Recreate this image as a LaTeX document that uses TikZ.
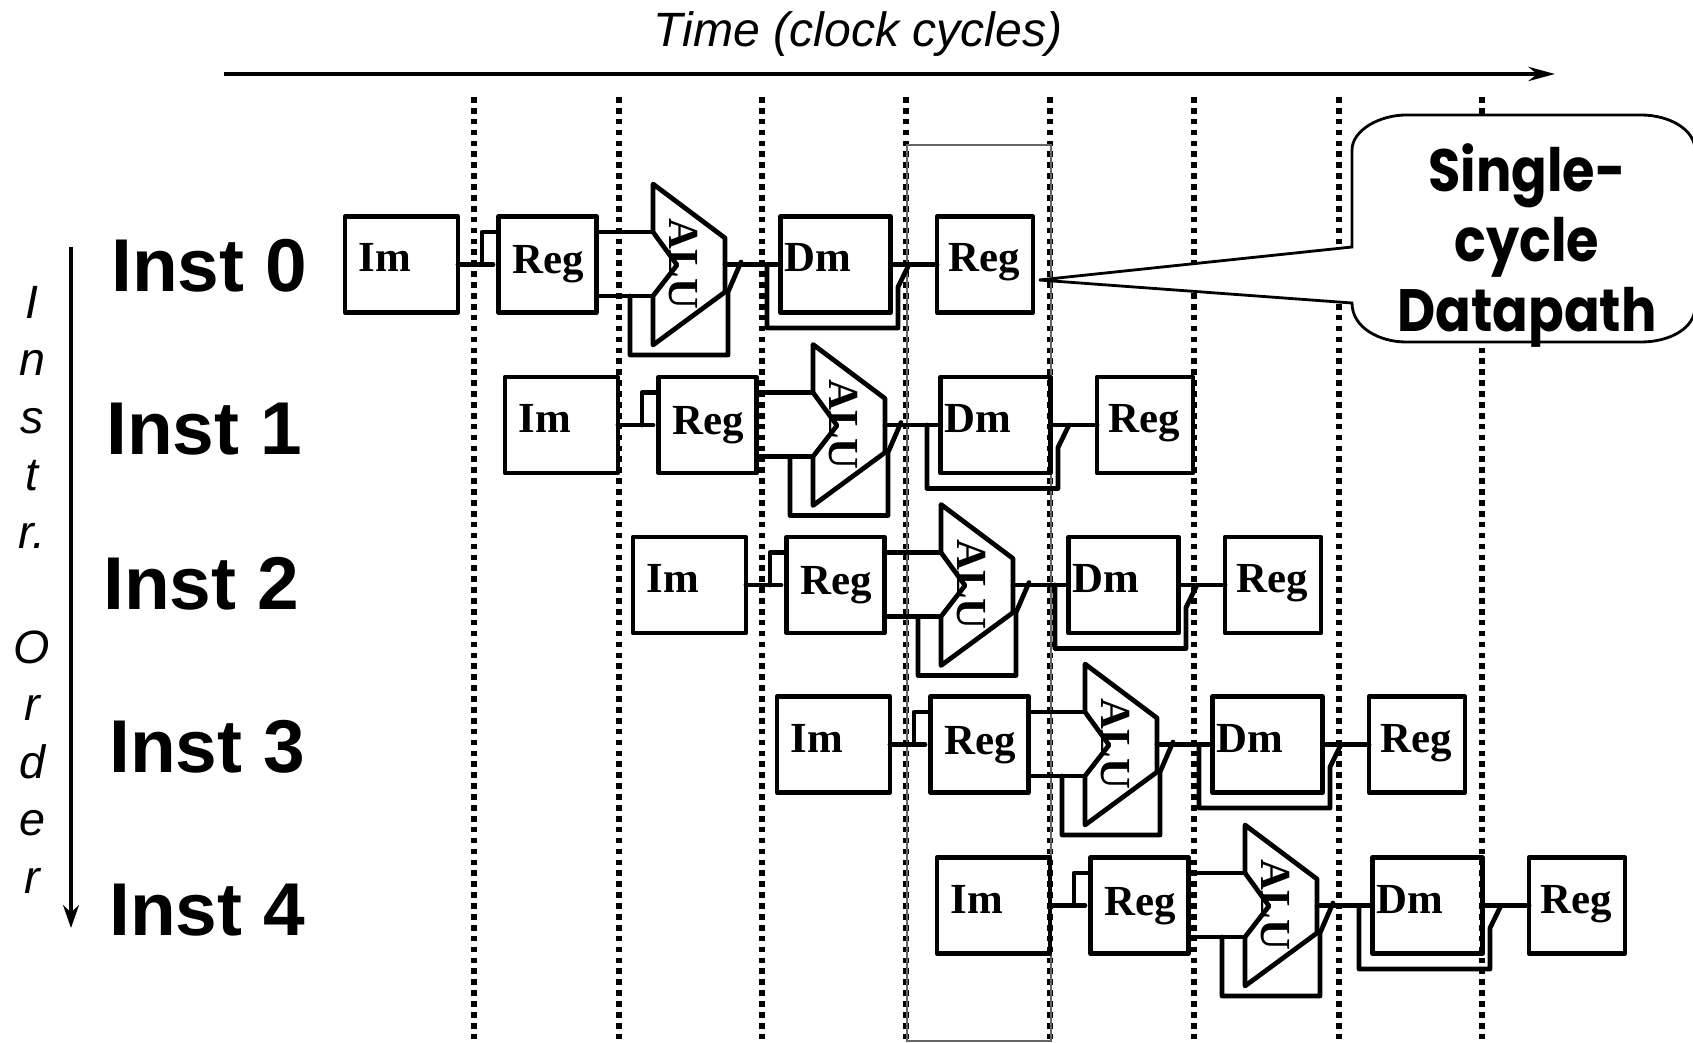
\documentclass[tikz,border=0pt]{standalone}
\usepackage{fontspec}
\setmainfont{Liberation Serif}
\setsansfont{Liberation Sans}
\newfontfamily\calloutfont{Poppins}
\usetikzlibrary{arrows.meta}
\newcommand{\calloutline}[1]{\scalebox{.88}[1]{#1}}
\tikzset{
 wire/.style={line width=2.7pt,line join=round,line cap=round},
 unitbox/.style={draw,line width=2.7pt,line join=round,minimum height=1.92cm,inner sep=0pt,outer sep=0pt},
 unitlab/.style={font=\bfseries\fontsize{24.4}{28}\selectfont,anchor=base west,inner sep=0pt},
 instlab/.style={font=\sffamily\bfseries\fontsize{42.6}{48}\selectfont,anchor=base west,inner sep=0pt},
 cyclemark/.style={line width=3.2pt,dash pattern=on 3.2pt off 3pt}
}
\begin{document}
\begin{tikzpicture}[x=0.02cm,y=-0.02cm,>=Stealth]
 \clip (0,0) rectangle (1693,1043);
 \foreach \x in {474,619,762,906,1050,1194,1339,1482}{
  \draw[cyclemark] (\x,97)--(\x,1043);
 }
 \draw[black!60,line width=.6pt] (907,145) rectangle (1051,1041);
 \node[font=\sffamily\itshape\fontsize{27.4}{32}\selectfont,inner sep=0pt] (timelab) at (858,34) {Time (clock cycles)};
 \coordinate (timestart) at (224,74);
 \coordinate (timeend) at (1555,74);
 \draw[-{Stealth[length=15pt,width=8pt]},line width=2.8pt] (timestart)--(timeend);
 \coordinate (orderstart) at (71,247);
 \coordinate (orderend) at (71,928);
 \draw[-{Stealth[length=13pt,width=9pt]},line width=2.8pt] (orderstart)--(orderend);
 \node[font=\sffamily\itshape\fontsize{26.6}{32.7}\selectfont,align=center,inner sep=0pt,anchor=base] (orderlab) at (32,893)
  {I\\n\\s\\t\\r.\\[32.7pt]O\\r\\d\\e\\r};
 \foreach \n/\x/\y in {0/111/292,1/106/455,2/103/609,3/109/772,4/109/935}{
  \node[instlab] (inst\n) at (\x,\y) {Inst \n};
 }
 \foreach \n/\dx/\dy in {0/0/0,1/160/160.5,2/288/320.5,3/432/480,4/592/641}{
  \begin{scope}[shift={(\dx,\dy)}]
   \node[unitbox,minimum width=2.26cm] (im\n) at (401.5,264.5) {};
   \node[unitbox,minimum width=1.96cm] (reg\n) at (547.5,264.5) {};
   \node[unitbox,minimum width=2.2cm] (dm\n) at (835.5,264.5) {};
   \node[unitbox,minimum width=1.92cm] (wb\n) at (985,264.5) {};
   \node[unitlab] (imlab\n) at (358,272) {Im};
   \node[unitlab] (reglab\n) at (512,274) {Reg};
   \node[unitlab] (dmlab\n) at (784,272) {Dm};
   \node[unitlab] (wblab\n) at (948,272) {Reg};
   \node[font=\fontsize{24.4}{28}\selectfont\bfseries,rotate=-90,inner sep=0pt] (alulab\n) at (683,264) {ALU};
   \coordinate (aluin\n) at (653,232);
   \coordinate (aluinb\n) at (653,296);
   \coordinate (aluout\n) at (725,264.5);
   \coordinate (immid\n) at (482,264.5);
   \coordinate (imend\n) at (493,264.5);
   \coordinate (aluback\n) at (630,296);
   \coordinate (dmback\n) at (767,264.5);
   \draw[wire] (653,184)--(725,238)--(725,292)--(653,345)--(aluinb\n)--(677,265)--(aluin\n)--cycle;
   \draw[wire] (im\n)--(imend\n);
   \draw[wire] (immid\n)|-(reg\n.west|-aluin\n);
   \draw[wire] (reg\n.east|-aluin\n)--(aluin\n);
   \draw[wire] (reg\n.east|-aluinb\n)--(aluinb\n);
   \draw[wire] (aluback\n)--(630,355)--(728,355)--(728,292)--(741,262);
   \draw[wire] (aluout\n)--(dm\n.west);
   \draw[wire] (dmback\n)--(767,328)--(898,328)--(898,287)--(909,264.5);
   \draw[wire] (dm\n.east)--(wb\n.west);
  \end{scope}
 }
 \draw[fill=white,line width=1.6pt,line join=miter]
  (1352,247)--(1352,150)..controls(1352,130)and(1380,115)..(1406,115)
  --(1641,115)..controls(1670,115)and(1695,130)..(1695,150)
  --(1695,307)..controls(1695,328)and(1670,342)..(1641,342)
  --(1406,342)..controls(1380,342)and(1352,328)..(1352,303)
  --(1039,280)--cycle;
 \node[font=\calloutfont\bfseries\fontsize{34}{40}\selectfont,align=center,inner sep=0pt,anchor=base] (calloutlab) at (1527,332)
  {\calloutline{Single-}\\[0pt]\calloutline{cycle}\\[0pt]\calloutline{Datapath}};
\end{tikzpicture}
\end{document}
